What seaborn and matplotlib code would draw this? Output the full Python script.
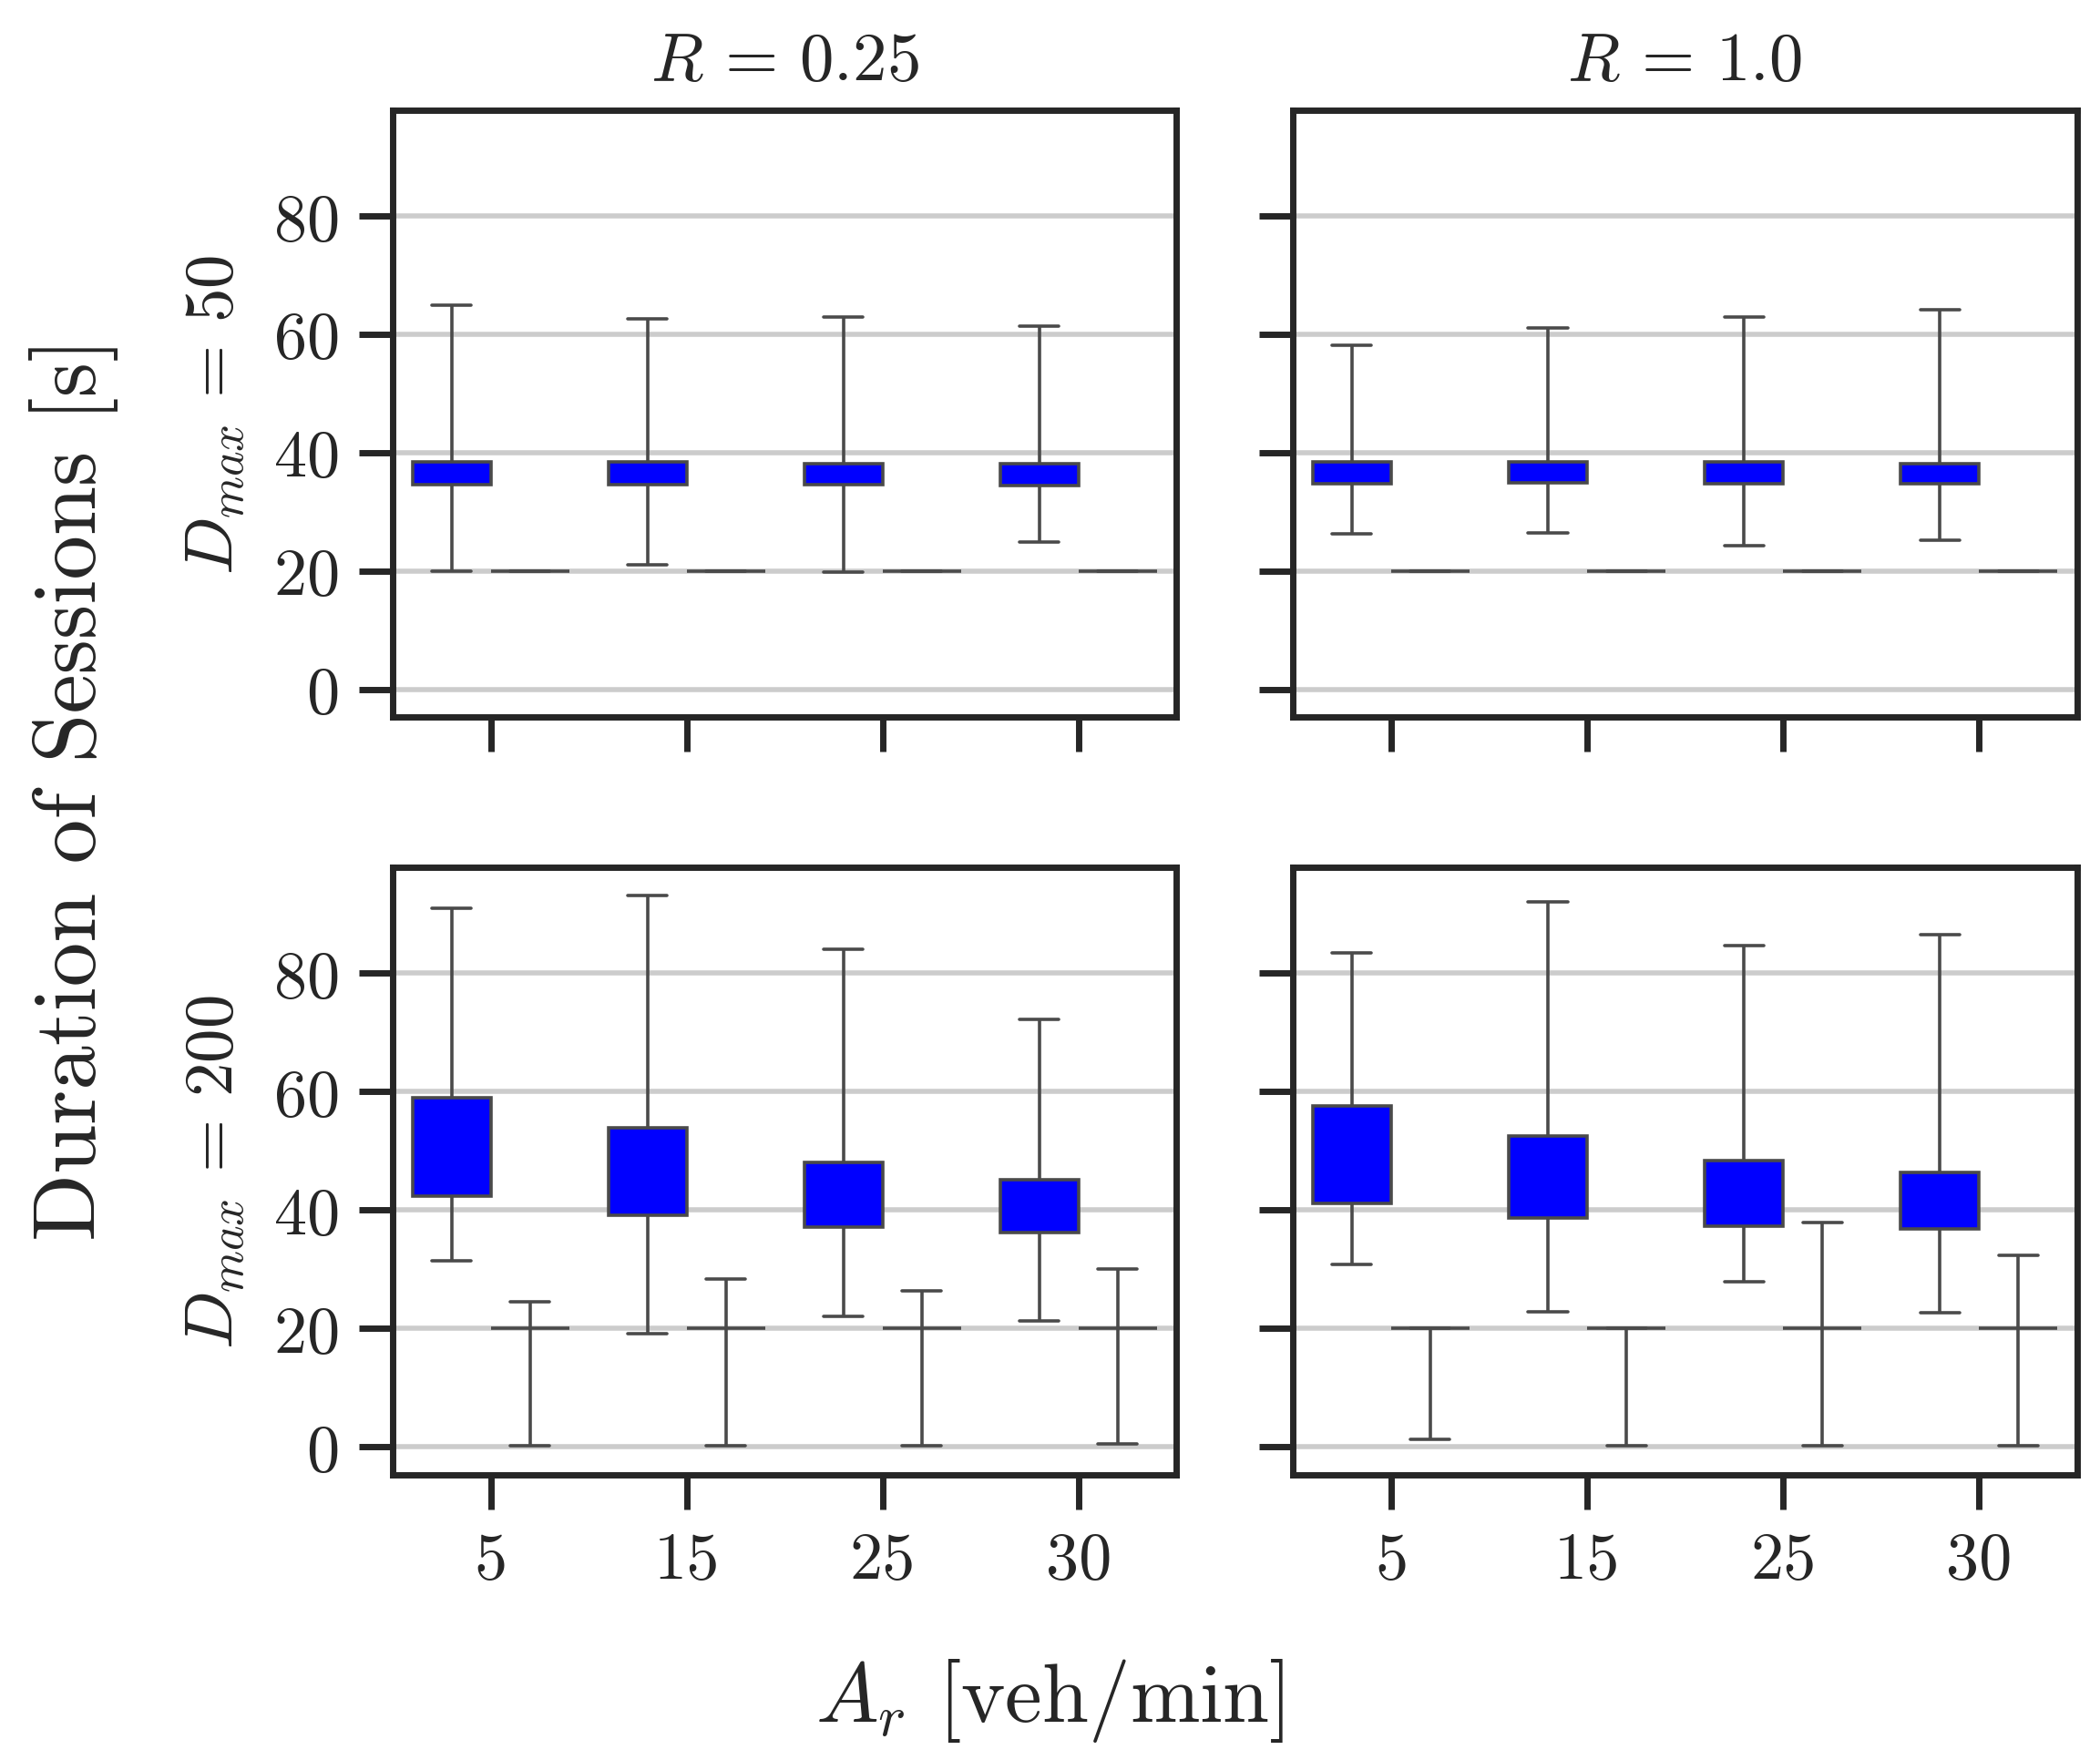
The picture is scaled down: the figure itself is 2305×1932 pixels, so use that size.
import numpy as np
import pandas as pd
import matplotlib
matplotlib.use("Agg")
import matplotlib.pyplot as plt
import seaborn as sns

# arrival rates on the x axis
AR = [5, 15, 25, 30]
R_VALUES = [0.25, 1.0]
DMAX_VALUES = [50, 200]
GROUPS = ["first", "second"]

# each box: [min, q1, median, q3, max] per arrival rate
r025_d50_first = [[20.0, 34.6, 36.5, 38.4, 65.0], [21.1, 34.6, 36.5, 38.4, 62.7],
                  [19.9, 34.6, 36.4, 38.2, 62.9], [24.9, 34.4, 36.3, 38.2, 61.4]]
r025_d50_second = [[20.0, 20.0, 20.0, 20.0, 20.0], [20.0, 20.0, 20.0, 20.0, 20.0],
                   [20.0, 20.0, 20.0, 20.0, 20.0], [20.0, 20.0, 20.0, 20.0, 20.0]]
r100_d50_first = [[26.3, 34.8, 36.6, 38.4, 58.1], [26.5, 35.0, 36.7, 38.4, 61.1],
                  [24.3, 34.8, 36.6, 38.4, 63.0], [25.3, 34.8, 36.5, 38.2, 64.2]]
r100_d50_second = [[20.0, 20.0, 20.0, 20.0, 20.0], [20.0, 20.0, 20.0, 20.0, 20.0],
                   [20.0, 20.0, 20.0, 20.0, 20.0], [20.0, 20.0, 20.0, 20.0, 20.0]]
r025_d200_first = [[31.5, 42.3, 50.6, 59.0, 91.0], [19.1, 39.1, 46.5, 53.9, 93.2],
                   [22.1, 37.1, 42.6, 48.1, 84.0], [21.3, 36.2, 40.6, 45.1, 72.3]]
r025_d200_second = [[0.2, 20.0, 20.0, 20.0, 24.5], [0.2, 20.0, 20.0, 20.0, 28.3],
                    [0.2, 20.0, 20.0, 20.0, 26.3], [0.5, 20.0, 20.0, 20.0, 30.1]]
r100_d200_first = [[30.9, 41.1, 49.4, 57.6, 83.4], [22.9, 38.6, 45.5, 52.5, 92.1],
                   [27.9, 37.3, 42.8, 48.3, 84.7], [22.7, 36.8, 41.5, 46.3, 86.5]]
r100_d200_second = [[1.3, 20.0, 20.0, 20.0, 20.0], [0.2, 20.0, 20.0, 20.0, 20.0],
                    [0.2, 20.0, 20.0, 20.0, 37.9], [0.2, 20.0, 20.0, 20.0, 32.3]]

PANELS = {
    (50, 0.25): (r025_d50_first, r025_d50_second),
    (50, 1.0): (r100_d50_first, r100_d50_second),
    (200, 0.25): (r025_d200_first, r025_d200_second),
    (200, 1.0): (r100_d200_first, r100_d200_second),
}


def build_frame():
    rows = []
    for (dmax, r), series in PANELS.items():
        for group, boxes in zip(GROUPS, series):
            for ar, values in zip(AR, boxes):
                for v in values:
                    rows.append({"Dmax": dmax, "R": r, "Ar": ar, "group": group, "duration": v})
    return pd.DataFrame(rows)


df = build_frame()

sns.set_style("ticks")
plt.rcParams.update({
    "font.family": "serif",
    "font.serif": ["cmr10", "DejaVu Serif"],
    "mathtext.fontset": "cm",
    "axes.formatter.use_mathtext": True,
    "axes.edgecolor": "#262626",
    "axes.linewidth": 2.5,
    "xtick.major.size": 13.5,
    "ytick.major.size": 13.5,
    "xtick.major.width": 2.5,
    "ytick.major.width": 2.5,
    "xtick.major.pad": 9,
    "ytick.major.pad": 8,
    "xtick.labelsize": 26,
    "ytick.labelsize": 26,
})

fig, axes = plt.subplots(2, 2, figsize=(11.525, 9.665), dpi=200, sharex=True, sharey=True)
fig.subplots_adjust(left=0.187, right=0.989, top=0.937, bottom=0.162, wspace=0.149, hspace=0.247)

line_col = "#4a4a4a"
for i, dmax in enumerate(DMAX_VALUES):
    for j, r in enumerate(R_VALUES):
        ax = axes[i, j]
        sub = df[(df["Dmax"] == dmax) & (df["R"] == r)]
        ax.yaxis.grid(True, color="#cccccc", linewidth=2, zorder=0)
        ax.set_axisbelow(True)
        sns.boxplot(data=sub, x="Ar", y="duration", hue="group", hue_order=GROUPS,
                    palette=["blue", "white"], saturation=1, whis=(0, 100), showfliers=False,
                    linecolor=line_col, linewidth=1.3, legend=False, ax=ax,
                    medianprops={"linewidth": 0})
        for side in ["top", "right"]:
            ax.spines[side].set_visible(True)
        ax.set_xlabel("")
        ax.set_ylabel("")
        if i == 0:
            ax.set_title(rf"$R \,=\, {r}$", fontsize=27, pad=12)
        if j == 0:
            ax.set_ylabel(rf"$D_{{max}} \,=\, {dmax}$", fontsize=27, labelpad=10)

axes[0, 0].set_ylim(-4.7, 97.9)
axes[0, 0].set_yticks([0, 20, 40, 60, 80])
axes[0, 0].set_xlim(-0.5, 3.5)

fig.text(0.035, 0.552, "Duration of Sessions [s]", rotation=90, ha="center", va="center", fontsize=35)
fig.text(0.5, 0.034, "$A_r$ [veh/min]", ha="center", va="center", fontsize=33)

fig.savefig("out.png", dpi=200)
